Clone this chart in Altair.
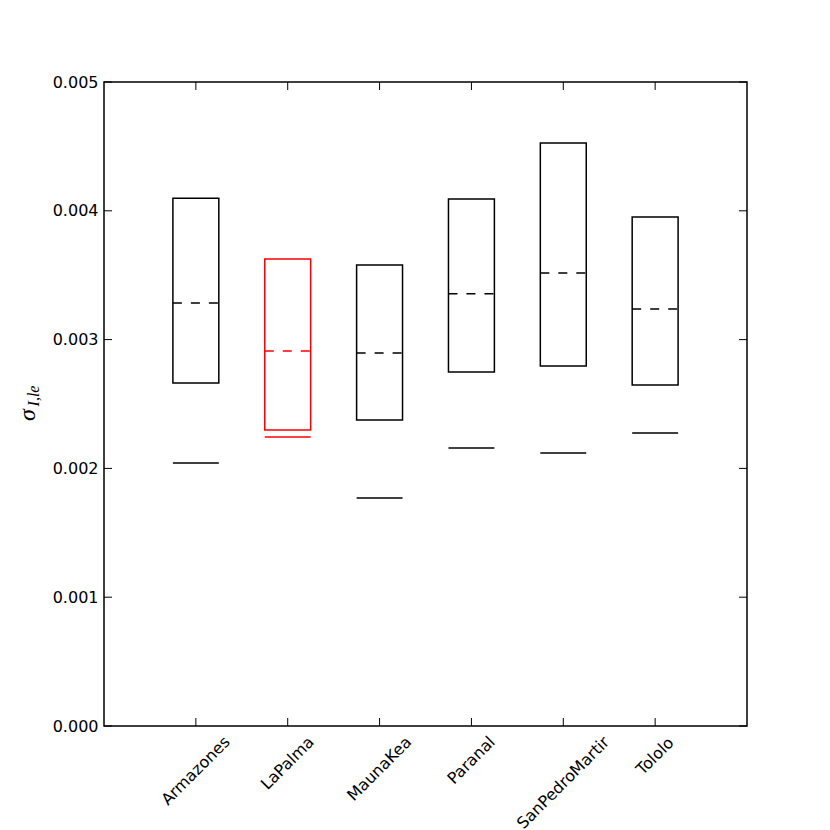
import altair as alt
import pandas as pd

sites = ["Armazones", "LaPalma", "MaunaKea", "Paranal", "SanPedroMartir", "Tololo"]
upper = [0.004097, 0.003626, 0.003579, 0.004092, 0.004526, 0.003952]
median = [0.003284, 0.002911, 0.002896, 0.003356, 0.003517, 0.003238]
lower = [0.002663, 0.002298, 0.002376, 0.002748, 0.002795, 0.002648]
minimum = [0.002042, 0.002244, 0.001770, 0.002158, 0.002120, 0.002275]
colors = ["black", "red", "black", "black", "black", "black"]
y_ticks = [0.0, 0.001, 0.002, 0.003, 0.004, 0.005]

W, H = 643, 644
YMAX = 0.005
HALF = 0.25
FS = 16
LW = 1.5

# approximate DejaVu Sans advance widths (em) for label placement
cw = {"A": .684, "r": .411, "m": .974, "a": .613, "z": .525, "o": .612, "n": .634,
      "e": .615, "s": .521, "L": .557, "P": .603, "l": .278, "M": .863, "u": .634,
      "K": .656, "k": .579, "p": .635, "S": .635, "d": .635, "t": .392, "i": .278,
      "T": .611}

df = pd.DataFrame({"site": sites, "upper": upper, "median": median,
                   "lower": lower, "minimum": minimum, "color": colors})
df["idx"] = range(1, len(sites) + 1)
df["x1"] = df["idx"] - HALF
df["x2"] = df["idx"] + HALF
lens = [sum(cw.get(c, 0.6) for c in s) * FS for s in sites]
df["lab_y"] = [-(9 + 0.3536 * (L + 12)) * YMAX / H for L in lens]

xs = alt.Scale(domain=[0, 7], nice=False, zero=False)
ys = alt.Scale(domain=[0, YMAX], nice=False, zero=False)
col = alt.Color("color:N", scale=None, legend=None)

base = alt.Chart(df)

boxes = base.mark_rect(filled=False, strokeWidth=LW).encode(
    x=alt.X("x1:Q", scale=xs, axis=None),
    x2="x2:Q",
    y=alt.Y("lower:Q", scale=ys,
            axis=alt.Axis(values=y_ticks, format=".3f", title=None, grid=False,
                          domain=False, ticks=False, labelFontSize=FS,
                          labelFont="DejaVu Sans", labelColor="black",
                          labelPadding=6)),
    y2="upper:Q",
    stroke=alt.Stroke("color:N", scale=None, legend=None),
)

med = base.mark_rule(strokeWidth=LW, strokeDash=[9, 9]).encode(
    x="x1:Q", x2="x2:Q", y="median:Q", color=col)

mins = base.mark_rule(strokeWidth=LW).encode(
    x="x1:Q", x2="x2:Q", y="minimum:Q", color=col)

labels = base.mark_text(angle=315, align="center", baseline="middle",
                        font="DejaVu Sans", fontSize=FS, color="black").encode(
    x="idx:Q", y="lab_y:Q", text="site:N")

xt_bot = base.mark_rule(color="black", strokeWidth=1).encode(
    x="idx:Q", y=alt.value(H), y2=alt.value(H - 8))
xt_top = base.mark_rule(color="black", strokeWidth=1).encode(
    x="idx:Q", y=alt.value(0), y2=alt.value(8))

tdf = pd.DataFrame({"t": y_ticks})
yt_left = alt.Chart(tdf).mark_rule(color="black", strokeWidth=1).encode(
    y="t:Q", x=alt.value(0), x2=alt.value(8))
yt_right = alt.Chart(tdf).mark_rule(color="black", strokeWidth=1).encode(
    y="t:Q", x=alt.value(W - 8), x2=alt.value(W))

sig = alt.Chart(pd.DataFrame({"s": ["σ"]})).mark_text(
    angle=270, align="center", baseline="middle", font="Liberation Serif",
    fontStyle="italic", fontSize=24, color="black").encode(
    x=alt.value(-76), y=alt.value(333), text="s:N")
sub = alt.Chart(pd.DataFrame({"s": ["I,le"]})).mark_text(
    angle=270, align="center", baseline="middle", font="Liberation Serif",
    fontStyle="italic", fontSize=16, color="black").encode(
    x=alt.value(-70), y=alt.value(314), text="s:N")

chart = alt.layer(boxes, med, mins, labels, xt_bot, xt_top, yt_left, yt_right,
                  sig, sub).properties(
    width=W, height=H,
    background="white",
    autosize=alt.AutoSizeParams(type="none"),
    padding={"left": 96, "top": 74, "right": 75, "bottom": 110},
).configure_view(stroke="black", strokeWidth=1.5)

chart.save("out.html", embed_options={"renderer": "svg", "actions": False})
